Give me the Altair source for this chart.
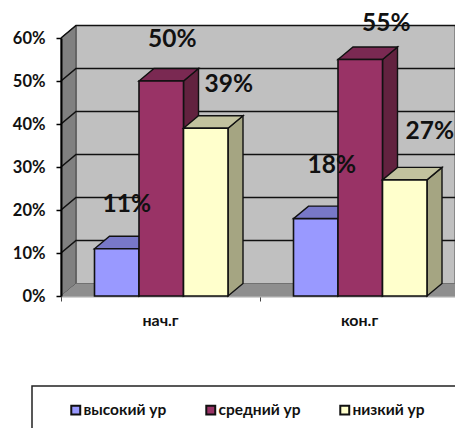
import altair as alt
import pandas as pd

categories = ["нач.г", "кон.г"]
series = ["высокий ур", "средний ур", "низкий ур"]
values = {
    "высокий ур": [11, 18],
    "средний ур": [50, 55],
    "низкий ур": [39, 27],
}
front = ["#9999FF", "#993366", "#FFFFCC"]
top = ["#7878C8", "#7A2952", "#C2C29E"]
side = ["#5C5C99", "#62223F", "#A5A582"]
label_nudges = {
    "высокий ур": [(10, -44), (16, -53)],
    "средний ур": [(11, -41), (26, -36)],
    "низкий ур": [(23, -43), (25, -48)],
}
gridlines = [10, 20, 30, 40, 50, 60]
y_ticks = [0, 10, 20, 30, 40, 50, 60]
x_ticks = [0, 1, 2]

FONT = "Lato"
CAT_W = 199.0
PX_PER_PCT = 4.3
PLOT_W = 394
X_END = PLOT_W / CAT_W
DX = 15 / CAT_W
DY = 12.5 / PX_PER_PCT
BAR_W = 44.5 / CAT_W
BAR_START = 33.5 / CAT_W

x_scale = alt.Scale(domain=[0, X_END], nice=False, zero=False)
y_scale = alt.Scale(domain=[0, 60], nice=False, zero=False)
x_axis = alt.Axis(
    values=x_ticks, labels=False, title=None, tickColor="#444444", tickSize=5, domainColor="#A8A8A8",
    domainWidth=2, grid=False,
)
y_axis = alt.Axis(
    values=y_ticks, labelExpr="datum.value + '%'", title=None, grid=False,
    labelFont=FONT, labelFontWeight="bold", labelFontSize=16.5, labelColor="#111111", tickColor="black",
    tickSize=5, tickWidth=1.5, domainColor="black", domainWidth=2, labelPadding=11, zindex=1,
)
X = alt.X("x:Q", scale=x_scale, axis=x_axis)
Y = alt.Y("y:Q", scale=y_scale, axis=y_axis)
Y2 = alt.Y2("y2:Q")

# walls and floor
back_wall = alt.Chart(pd.DataFrame([{"x": DX, "x2": X_END, "y": DY, "y2": 60 + DY}])).mark_rect(
    fill="#C0C0C0", stroke="#555555", strokeWidth=1
).encode(x=X, x2="x2:Q", y=Y, y2=Y2)
left_wall = alt.Chart(pd.DataFrame([
    {"x": 0, "y": 0, "y2": 60}, {"x": DX, "y": DY, "y2": 60 + DY}
])).mark_area(fill="#808080", stroke="#444444", strokeWidth=1).encode(x=X, y=Y, y2=Y2)
floor = alt.Chart(pd.DataFrame([
    {"x": 0, "y": 0, "y2": 0}, {"x": DX, "y": 0, "y2": DY}, {"x": X_END, "y": 0, "y2": DY}
])).mark_area(fill="#8E8E8E").encode(x=X, y=Y, y2=Y2)

grid_rows = []
for v in gridlines:
    grid_rows += [
        {"v": v, "x": 0, "y": v},
        {"v": v, "x": DX, "y": v + DY},
        {"v": v, "x": X_END, "y": v + DY},
    ]
grid = alt.Chart(pd.DataFrame(grid_rows)).mark_line(color="#111111", strokeWidth=1.6, clip=False).encode(
    x=X, y=Y, detail="v:N"
)

layers = [back_wall, left_wall, floor, grid]

# box for the legend
layers.append(
    alt.Chart(pd.DataFrame({"a": [0]})).mark_rect(fill="white", stroke="#222222", strokeWidth=1.5).encode(
        x=alt.value(-29), x2=alt.value(440), y=alt.value(348), y2=alt.value(440)
    )
)

# bars: side, top, then front face per series so later bars overlap earlier ones
for s_i, s in enumerate(series):
    for c_i, c in enumerate(categories):
        v = values[s][c_i]
        x0 = c_i + BAR_START + s_i * BAR_W
        x1 = x0 + BAR_W
        side_df = pd.DataFrame([
            {"x": x1, "y": 0, "y2": v}, {"x": x1 + DX, "y": DY, "y2": v + DY}
        ])
        top_df = pd.DataFrame([
            {"x": x0, "y": v, "y2": v},
            {"x": x0 + DX, "y": v, "y2": v + DY},
            {"x": x1, "y": v, "y2": v + DY},
            {"x": x1 + DX, "y": v + DY, "y2": v + DY},
        ])
        layers.append(alt.Chart(side_df).mark_area(fill=side[s_i], stroke="#111111", strokeWidth=1.4).encode(x=X, y=Y, y2=Y2))
        layers.append(alt.Chart(top_df).mark_area(fill=top[s_i], stroke="#111111", strokeWidth=1.4).encode(x=X, y=Y, y2=Y2))
    front_df = pd.DataFrame({
        "series": s,
        "x": [c_i + BAR_START + s_i * BAR_W for c_i in range(len(categories))],
        "x2": [c_i + BAR_START + (s_i + 1) * BAR_W for c_i in range(len(categories))],
        "y": 0,
        "y2": values[s],
    })
    layers.append(alt.Chart(front_df).mark_rect(stroke="#111111", strokeWidth=1.6).encode(
        x=X, x2="x2:Q", y=Y, y2=Y2,
        color=alt.Color("series:N", scale=alt.Scale(domain=series, range=front), legend=alt.Legend(
            title=None, orient="none", legendX=7, legendY=364, columns=3, direction="horizontal",
            symbolType="square", symbolSize=80, symbolStrokeColor="#111111", symbolStrokeWidth=2,
            labelFont=FONT, labelFontWeight="bold", labelFontSize=15.5, labelColor="#111111",
            columnPadding=35, labelOffset=0, padding=0, symbolOpacity=1,
        )),
    ))

# value labels
for s_i, s in enumerate(series):
    for c_i, c in enumerate(categories):
        v = values[s][c_i]
        nudge = label_nudges[s][c_i]
        df = pd.DataFrame({"x": [c_i + BAR_START + (s_i + 0.5) * BAR_W], "y": [v], "label": [f"{v}%"]})
        layers.append(alt.Chart(df).mark_text(
            font=FONT, fontWeight="bold", fontSize=24.5, color="#111111",
            dx=nudge[0], dy=nudge[1], clip=False,
        ).encode(x=X, y=Y, text="label:N"))

# category labels
cat_df = pd.DataFrame({"x": [i + 0.5 for i in range(len(categories))], "y": [0] * len(categories), "label": categories})
layers.append(alt.Chart(cat_df).mark_text(
    font=FONT, fontWeight="bold", fontSize=16, color="#111111", dy=25
).encode(x=X, y=Y, text="label:N"))

chart = alt.layer(*layers).properties(
    width=PLOT_W,
    height=258,
    autosize=alt.AutoSizeParams(type="none"),
    padding={"left": 53, "top": 30, "right": 0, "bottom": 132},
    background="white",
).configure_view(stroke=None)

chart.save("out.html", embed_options={"renderer": "svg", "actions": False})
